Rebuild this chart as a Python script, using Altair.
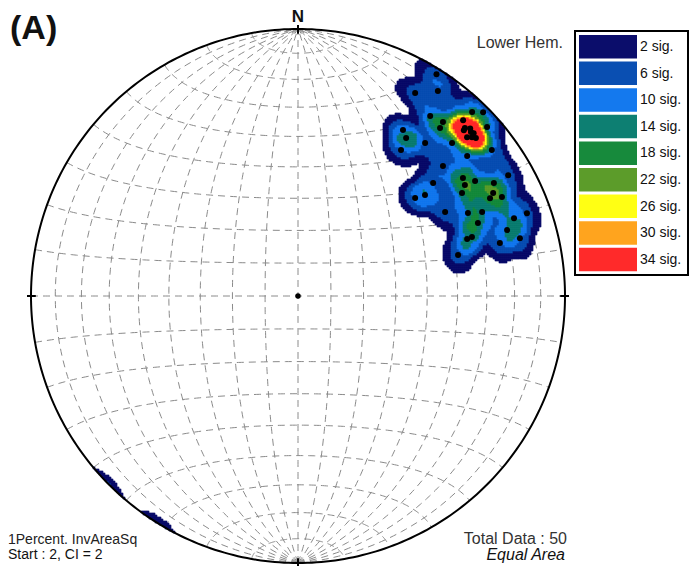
import altair as alt
import numpy as np
import pandas as pd

# ---- data read from the stereonet (lower hemisphere poles, degrees) ----
trend = [30.0, 34.3, 36.3, 39.8, 40.2, 43.4, 45.2, 43.2, 48.2, 44.8,
         46.5, 48.4, 46.8, 32.3, 34.4, 35.2, 39.7, 45.2, 50.4, 53.0,
         48.1, 50.1, 54.4, 56.4, 57.9, 50.1, 51.5, 60.1, 60.0, 62.2,
         64.1, 63.0, 60.3, 64.0, 65.5, 67.9, 70.2, 70.1, 72.5, 71.4,
         71.3, 75.3, 75.4, 75.6, 45.0, 47.6, 45.8, 47.2, 57.0, 32.0]
plunge = [13.3, 7.8, 17.5, 16.3, 18.7, 5.7, 2.6, 10.6, 5.6, 12.3,
          11.7, 11.9, 14.2, 27.3, 29.1, 33.5, 26.4, 19.8, 18.9, 10.0,
          27.9, 34.4, 25.0, 25.9, 28.3, 42.3, 39.1, 10.1, 16.4, 18.5,
          16.2, 20.4, 36.7, 29.9, 25.2, 28.1, 15.1, 9.7, 19.0, 33.6,
          31.8, 22.9, 15.2, 38.1, 13.2, 12.8, 11.0, 11.3, 22.0, 2.4]
levels = [2, 6, 10, 14, 18, 22, 26, 30, 34]
level_labels = [f"{v} sig." for v in levels]
level_colors = ["#0b0d6b", "#0a4fb2", "#1479ee", "#0d7f72", "#178a3c",
                "#5c9c2a", "#ffff14", "#ffa41e", "#ff2a2a"]
net_angles = list(range(-80, 81, 10))
notes_left = ["1Percent. InvAreaSq", "Start : 2, CI = 2"]
notes_right = ["Total Data : 50", "Equal Area"]

# ---- geometry ----
W, H = 682, 558
CX, CY, RPX = 290.0, 288.0, 267.0


def px2x(p):
    return (p - CX) / RPX


def px2y(p):
    return (CY - p) / RPX


XS = alt.Scale(domain=[px2x(0), px2x(W)], nice=False, zero=False)
YS = alt.Scale(domain=[px2y(H), px2y(0)], nice=False, zero=False)


def proj(e, n, d):
    f = 1.0 / np.sqrt(1.0 + d)
    return e * f, n * f


# net lines
t = np.radians(np.linspace(-90, 90, 181))
rows = []
for a in net_angles:
    lam = np.radians(a)
    X, Y = proj(np.cos(t) * np.sin(lam), np.sin(t), np.cos(t) * np.cos(lam))
    rows += [dict(x=X[k], y=Y[k], id=f"m{a}", o=k) for k in range(len(t))]
    phi = np.radians(a)
    X, Y = proj(np.cos(phi) * np.sin(t), np.sin(phi) * np.ones_like(t), np.cos(phi) * np.cos(t))
    rows += [dict(x=X[k], y=Y[k], id=f"p{a}", o=k) for k in range(len(t))]
net = pd.DataFrame(rows)

ang = np.radians(np.linspace(0, 360, 361))
prim = pd.DataFrame(dict(x=np.sin(ang), y=np.cos(ang), o=np.arange(len(ang))))

# data vectors
tr = np.radians(trend)
pl = np.radians(plunge)
dv = np.stack([np.cos(pl) * np.sin(tr), np.cos(pl) * np.cos(tr), np.sin(pl)], axis=1)
PX, PY = proj(dv[:, 0], dv[:, 1], dv[:, 2])
pts = pd.DataFrame(dict(x=PX, y=PY))

# density grid: soft counting cap (axial), evaluated on the lower hemisphere
AMP, CAP, SOFT = 6.5, 0.075, 0.016
step = 2.0 / RPX
u = np.arange(-1 + step / 2, 1, step)
GX, GY = np.meshgrid(u, u)
GX, GY = GX.ravel(), GY.ravel()
r2 = GX ** 2 + GY ** 2
m = r2 <= 1.0
GX, GY, r2 = GX[m], GY[m], r2[m]
s = np.sqrt(2 - r2)
gv = np.stack([GX * s, GY * s, 1 - r2], axis=1)
alpha = np.arccos(np.clip(np.abs(gv @ dv.T), 0, 1))
dens = (AMP / (1 + np.exp((alpha - CAP) / SOFT))).sum(axis=1)
lvl = np.floor((dens - 2) / 4).astype(int)
sel = lvl >= 0
lvl = np.clip(lvl[sel], 0, 8)
h = step * 0.55
cells = pd.DataFrame(dict(x=GX[sel] - h, x2=GX[sel] + h, y=GY[sel] - h, y2=GY[sel] + h,
                          lab=[level_labels[i] for i in lvl]))

cscale = alt.Scale(domain=level_labels, range=level_colors)

net_layer = alt.Chart(net).mark_line(color="#8a8a8a", strokeWidth=1, strokeDash=[7, 5]).encode(
    x=alt.X("x:Q", scale=XS, axis=None), y=alt.Y("y:Q", scale=YS, axis=None),
    detail="id:N", order="o:Q")

dens_layer = alt.Chart(cells).mark_rect(strokeWidth=0.4).encode(
    x=alt.X("x:Q", scale=XS, axis=None), x2="x2", y=alt.Y("y:Q", scale=YS, axis=None), y2="y2",
    color=alt.Color("lab:N", scale=cscale, legend=None),
    stroke=alt.Stroke("lab:N", scale=cscale, legend=None))

pt_layer = alt.Chart(pts).mark_circle(size=36, color="black", opacity=1).encode(
    x=alt.X("x:Q", scale=XS, axis=None), y=alt.Y("y:Q", scale=YS, axis=None))

prim_layer = alt.Chart(prim).mark_line(color="black", strokeWidth=2).encode(
    x=alt.X("x:Q", scale=XS, axis=None), y=alt.Y("y:Q", scale=YS, axis=None), order="o:Q")

# cardinal ticks and centre
card = np.radians([0, 90, 180, 270])
ticks = pd.DataFrame(dict(x=0.982 * np.sin(card), y=0.982 * np.cos(card),
                          x2=1.015 * np.sin(card), y2=1.015 * np.cos(card)))
tick_layer = alt.Chart(ticks).mark_rule(color="black", strokeWidth=2).encode(
    x=alt.X("x:Q", scale=XS, axis=None), y=alt.Y("y:Q", scale=YS, axis=None), x2="x2", y2="y2")
centre = alt.Chart(pd.DataFrame(dict(x=[0.0], y=[0.0]))).mark_circle(size=30, color="black", opacity=1).encode(
    x=alt.X("x:Q", scale=XS, axis=None), y=alt.Y("y:Q", scale=YS, axis=None))

# legend
i = np.arange(len(levels))
top = 27 + i * 26.6
leg = pd.DataFrame(dict(x=px2x(571), x2=px2x(629), y=px2y(top), y2=px2y(top + 23.5),
                        ty=px2y(top + 12), tx=px2x(632), lab=level_labels))
leg_box = alt.Chart(leg).mark_rect().encode(
    x=alt.X("x:Q", scale=XS, axis=None), x2="x2", y=alt.Y("y:Q", scale=YS, axis=None), y2="y2",
    color=alt.Color("lab:N", scale=cscale, legend=None))
leg_txt = alt.Chart(leg).mark_text(align="left", baseline="middle", fontSize=14,
                                   font="Liberation Sans", color="#111").encode(
    x=alt.X("tx:Q", scale=XS, axis=None), y=alt.Y("ty:Q", scale=YS, axis=None), text="lab:N")
frame = alt.Chart(pd.DataFrame(dict(x=[px2x(567)], x2=[px2x(680)], y=[px2y(23)], y2=[px2y(267)]))).mark_rect(
    fillOpacity=0, stroke="black", strokeWidth=2).encode(
    x=alt.X("x:Q", scale=XS, axis=None), x2="x2", y=alt.Y("y:Q", scale=YS, axis=None), y2="y2")


def text_layer(txt, px, py, **kw):
    df = pd.DataFrame(dict(x=[px2x(px)], y=[px2y(py)], t=[txt]))
    return alt.Chart(df).mark_text(font="Liberation Sans", baseline="alphabetic", **kw).encode(
        x=alt.X("x:Q", scale=XS, axis=None), y=alt.Y("y:Q", scale=YS, axis=None), text="t:N")


texts = [
    text_layer("(A)", 2, 31, align="left", fontSize=34, fontWeight="bold", color="#111"),
    text_layer("N", 290, 14, align="center", fontSize=17, fontWeight="bold", color="#111"),
    text_layer("Lower Hem.", 555, 40, align="right", fontSize=16, color="#333"),
    text_layer(notes_left[0], 0, 536, align="left", fontSize=14, color="#222"),
    text_layer(notes_left[1], 0, 551, align="left", fontSize=14, color="#111"),
    text_layer(notes_right[0], 559, 536, align="right", fontSize=16, color="#333"),
    text_layer(notes_right[1], 557, 551.5, align="right", fontSize=16, fontStyle="italic", color="#111"),
]

chart = alt.layer(net_layer, dens_layer, pt_layer, prim_layer, tick_layer, centre,
                  leg_box, leg_txt, frame, *texts).properties(
    width=W, height=H, autosize=alt.AutoSizeParams(type="none"), padding=0
).configure_view(stroke=None)

chart.save("out.html", embed_options={"renderer": "svg", "actions": False})
